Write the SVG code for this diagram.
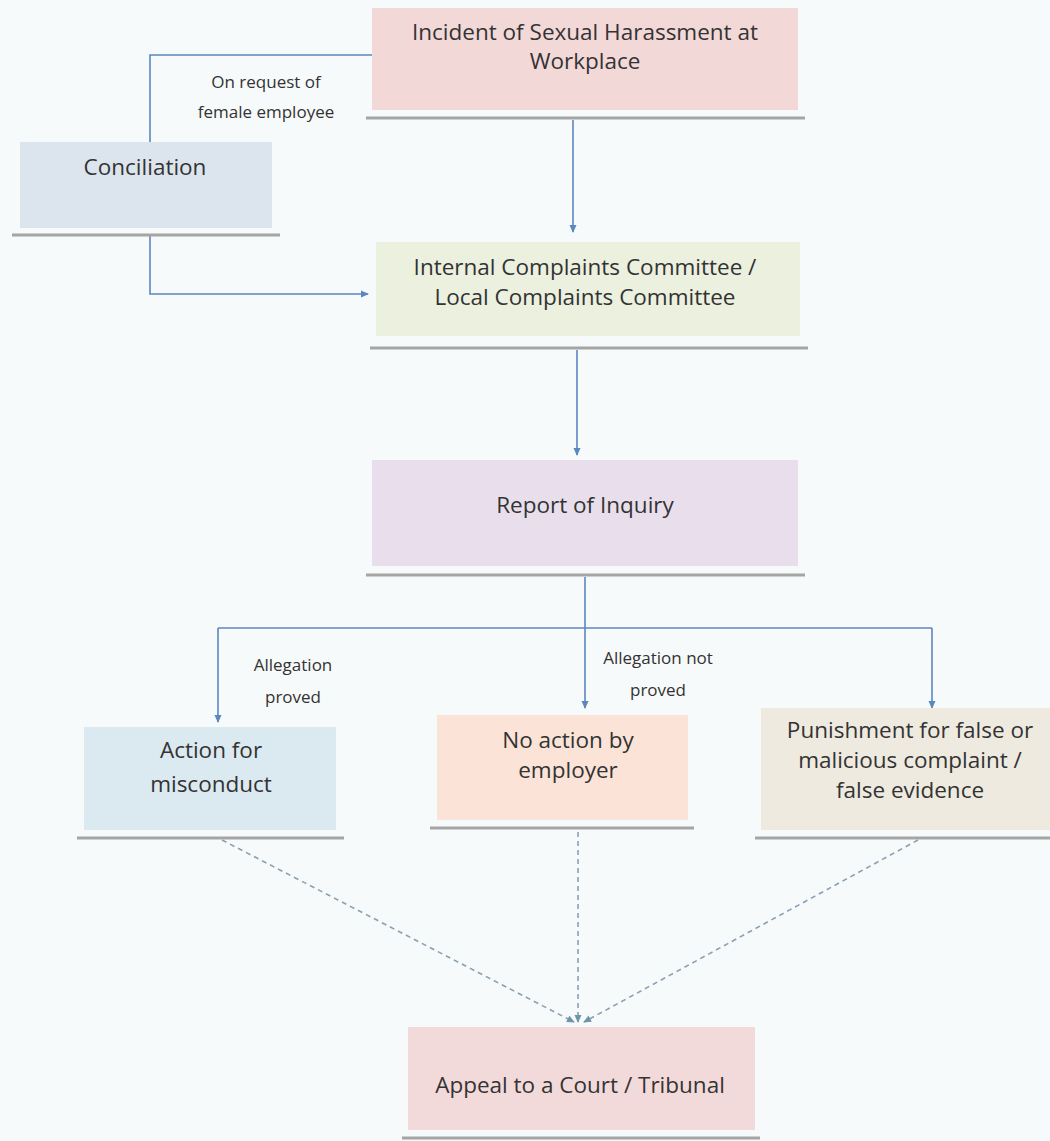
<svg xmlns="http://www.w3.org/2000/svg" width="1050" height="1141" viewBox="0 0 1050 1141">
<defs>
<style>
.t{font-family:"Open Sans","Liberation Sans",Arial,sans-serif;font-size:22.5px;fill:#333;text-anchor:middle}
.s{font-family:"Open Sans","Liberation Sans",Arial,sans-serif;font-size:17px;fill:#333;text-anchor:middle}
.ul{stroke:#a5a5a5;stroke-width:3}
.c{fill:none;stroke:#5b87c0;stroke-width:1.6}
.d{fill:none;stroke:#8aa0b4;stroke-width:1.6;stroke-dasharray:5 4}
</style>
<marker id="a" markerWidth="10" markerHeight="10" refX="8" refY="5" orient="auto" markerUnits="userSpaceOnUse">
<path d="M1,1.5 L9,5 L1,8.5 Z" fill="#5b87c0"/>
</marker>
<marker id="ad" markerWidth="10" markerHeight="10" refX="8" refY="5" orient="auto" markerUnits="userSpaceOnUse">
<path d="M1,1.5 L9,5 L1,8.5 Z" fill="#6d96a8"/>
</marker>
</defs>
<rect width="1050" height="1141" fill="#f7fafa"/>
<g id="connectors">
<path class="c" d="M372,55 H150 V142"/>
<path class="c" d="M573,120 V232" marker-end="url(#a)"/>
<path class="c" d="M150,236 V294 H368" marker-end="url(#a)"/>
<path class="c" d="M577,350 V455" marker-end="url(#a)"/>
<path class="c" d="M585,577 V708" marker-end="url(#a)"/>
<path class="c" d="M218,628 H932"/>
<path class="c" d="M218,628 V722" marker-end="url(#a)"/>
<path class="c" d="M932,628 V708" marker-end="url(#a)"/>
<path class="d" d="M222,840 L574,1022" marker-end="url(#ad)"/>
<path class="d" d="M578,832 V1022" marker-end="url(#ad)"/>
<path class="d" d="M918,840 L584,1022" marker-end="url(#ad)"/>
<text class="s" x="266" y="88">On request of</text>
<text class="s" x="266" y="118">female employee</text>
<text class="s" x="293" y="671">Allegation</text>
<text class="s" x="293" y="703">proved</text>
<text class="s" x="658" y="664">Allegation not</text>
<text class="s" x="658" y="696">proved</text>
</g>
<g id="incident">
<rect x="372" y="8" width="426" height="102" fill="#f3d8d8"/>
<line class="ul" x1="366" y1="118" x2="805" y2="118"/>
<text class="t" x="585" y="40">Incident of Sexual Harassment at</text>
<text class="t" x="585" y="69">Workplace</text>
</g>
<g id="conciliation">
<rect x="20" y="142" width="252" height="86" fill="#dce5ee"/>
<line class="ul" x1="12" y1="235" x2="280" y2="235"/>
<text class="t" x="145" y="175">Conciliation</text>
</g>
<g id="icc">
<rect x="376" y="242" width="424" height="94" fill="#ebf0df"/>
<line class="ul" x1="370" y1="348" x2="808" y2="348"/>
<text class="t" x="585" y="275">Internal Complaints Committee /</text>
<text class="t" x="585" y="305">Local Complaints Committee</text>
</g>
<g id="report">
<rect x="372" y="460" width="426" height="106" fill="#e9dfec"/>
<line class="ul" x1="366" y1="575" x2="805" y2="575"/>
<text class="t" x="585" y="513">Report of Inquiry</text>
</g>
<g id="action">
<rect x="84" y="727" width="252" height="103" fill="#dbe9f1"/>
<line class="ul" x1="77" y1="838" x2="344" y2="838"/>
<text class="t" x="211" y="758">Action for</text>
<text class="t" x="211" y="792">misconduct</text>
</g>
<g id="noaction">
<rect x="437" y="715" width="251" height="105" fill="#fbe4d7"/>
<line class="ul" x1="430" y1="828" x2="694" y2="828"/>
<text class="t" x="568" y="748">No action by</text>
<text class="t" x="568" y="778">employer</text>
</g>
<g id="punishment">
<rect x="761" y="708" width="289" height="122" fill="#eeeae0"/>
<line class="ul" x1="755" y1="838" x2="1050" y2="838"/>
<text class="t" x="910" y="738">Punishment for false or</text>
<text class="t" x="910" y="768">malicious complaint /</text>
<text class="t" x="910" y="798">false evidence</text>
</g>
<g id="appeal">
<rect x="408" y="1027" width="347" height="103" fill="#f3dada"/>
<line class="ul" x1="402" y1="1138" x2="760" y2="1138"/>
<text class="t" x="580" y="1093">Appeal to a Court / Tribunal</text>
</g>
</svg>
